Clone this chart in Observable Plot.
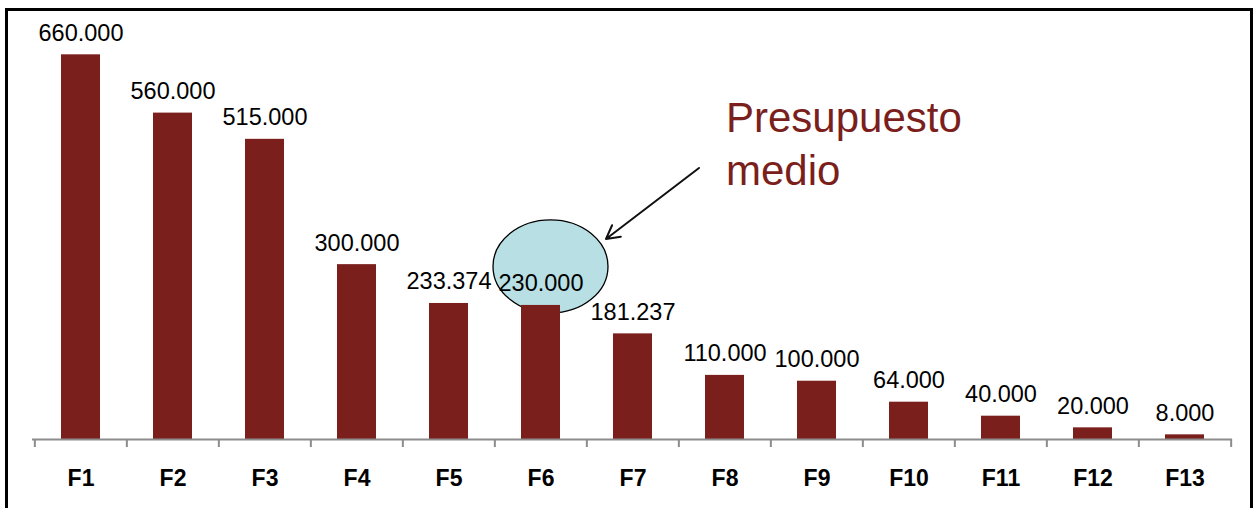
<!DOCTYPE html>
<html>
<head>
<meta charset="utf-8">
<script src="https://cdn.jsdelivr.net/npm/d3@7"></script>
<script src="https://cdn.jsdelivr.net/npm/@observablehq/plot@0.6"></script>
<style>
  html, body { margin: 0; padding: 0; background: #fff; }
  #wrap { position: relative; width: 1254px; height: 508px; overflow: hidden; }
  #frame { position: absolute; left: 5px; top: 8px; width: 1248px; height: 520px; box-sizing: border-box;
           border: 3px solid #000; border-bottom: none; pointer-events: none; }
  svg { display: block; }
</style>
</head>
<body>
<div id="wrap"><div id="frame"></div></div>
<script>
// ---- data ----
const categories = ["F1","F2","F3","F4","F5","F6","F7","F8","F9","F10","F11","F12","F13"];
const values = [660000, 560000, 515000, 300000, 233374, 230000, 181237, 110000, 100000, 64000, 40000, 20000, 8000];
const highlightCategory = "F6";
const annotationLines = ["Presupuesto", "medio"];

// ---- build ----
const data = categories.map((c, i) => ({cat: c, value: values[i]}));
const fmt = d3.formatLocale({decimal: ",", thousands: ".", grouping: [3], currency: ["", ""]}).format(",");
const barColor = "#7b1f1d";

const W = 1254, H = 508, ML = 32, MR = 22, MT = 31, MB = 69;
const step = (W - ML - MR) / categories.length;

function bandInfo(x) {
  return typeof x.bandwidth === "function" ? x.bandwidth() : (x.bandwidth ?? step * 0.42);
}

const highlightValue = values[categories.indexOf(highlightCategory)];

function ellipseCenter(scales) {
  const x = scales.x, y = scales.y;
  const bw = bandInfo(x);
  return [x(highlightCategory) + bw / 2 + 10, y(highlightValue) - 38.5];
}

const ellipseMark = (index, scales) => {
  const [cx, cy] = ellipseCenter(scales);
  const g = d3.create("svg:g");
  g.append("ellipse").attr("cx", cx).attr("cy", cy).attr("rx", 57.5).attr("ry", 46.5)
    .attr("fill", "#b8dfe3").attr("stroke", "#000").attr("stroke-width", 1.3);
  return g.node();
};

const annotationMark = (index, scales) => {
  const [cx, cy] = ellipseCenter(scales);
  const g = d3.create("svg:g");
  const tip = [cx + 55.5, cy - 27.5];
  const tail = [cx + 148.5, cy - 98.5];
  const dx = tail[0] - tip[0], dy = tail[1] - tip[1];
  const len = Math.hypot(dx, dy), ux = dx / len, uy = dy / len;
  const a = 0.5, hl = 15;
  const rot = (t) => [ux * Math.cos(t) - uy * Math.sin(t), ux * Math.sin(t) + uy * Math.cos(t)];
  const r1 = rot(a), r2 = rot(-a);
  g.append("path")
    .attr("d", `M${tail[0]},${tail[1]} L${tip[0]},${tip[1]} M${tip[0] + r1[0]*hl},${tip[1] + r1[1]*hl} L${tip[0]},${tip[1]} L${tip[0] + r2[0]*hl},${tip[1] + r2[1]*hl}`)
    .attr("fill", "none").attr("stroke", "#111").attr("stroke-width", 2).attr("stroke-linejoin", "round").attr("stroke-linecap", "round");
  const t = g.append("text").attr("x", cx + 175.5).attr("y", cy - 134.5)
    .attr("text-anchor", "start")
    .attr("fill", barColor).attr("font-size", 42).attr("font-family", "Liberation Sans, Arial, sans-serif");
  annotationLines.forEach((line, i) => {
    t.append("tspan").attr("x", cx + 175.5).attr("dy", i === 0 ? 0 : 53).text(line);
  });
  return g.node();
};

const chart = Plot.plot({
  width: W, height: H,
  marginLeft: ML, marginRight: MR, marginTop: MT, marginBottom: MB,
  style: {fontFamily: "Liberation Sans, Arial, sans-serif", background: "#fff", overflow: "visible"},
  x: {domain: categories, paddingInner: 0.58, paddingOuter: 0.29, label: null},
  y: {domain: [0, 700000], axis: null},
  marks: [
    ellipseMark,
    Plot.barY(data, {x: "cat", y: "value", fill: barColor}),
    Plot.ruleY([0], {stroke: "#8c8c8c", strokeWidth: 2}),
    Plot.ruleX(categories, {x: d => d, y1: 0, y2: 0, insetBottom: -8, dx: -step / 2, stroke: "#8c8c8c", strokeWidth: 2}),
    Plot.ruleX([categories[categories.length - 1]], {x: d => d, y1: 0, y2: 0, insetBottom: -8, dx: step / 2, stroke: "#8c8c8c", strokeWidth: 2}),
    Plot.text(data, {x: "cat", y: "value", text: d => fmt(d.value), dy: -14, lineAnchor: "bottom", fontSize: 23.5, fill: "#000"}),
    Plot.axisX({tickSize: 0, tickPadding: 30, fontSize: 23, fontWeight: "bold", fill: "#000", label: null}),
    annotationMark
  ]
});
document.getElementById("wrap").insertBefore(chart, document.getElementById("frame"));
</script>
</body>
</html>
